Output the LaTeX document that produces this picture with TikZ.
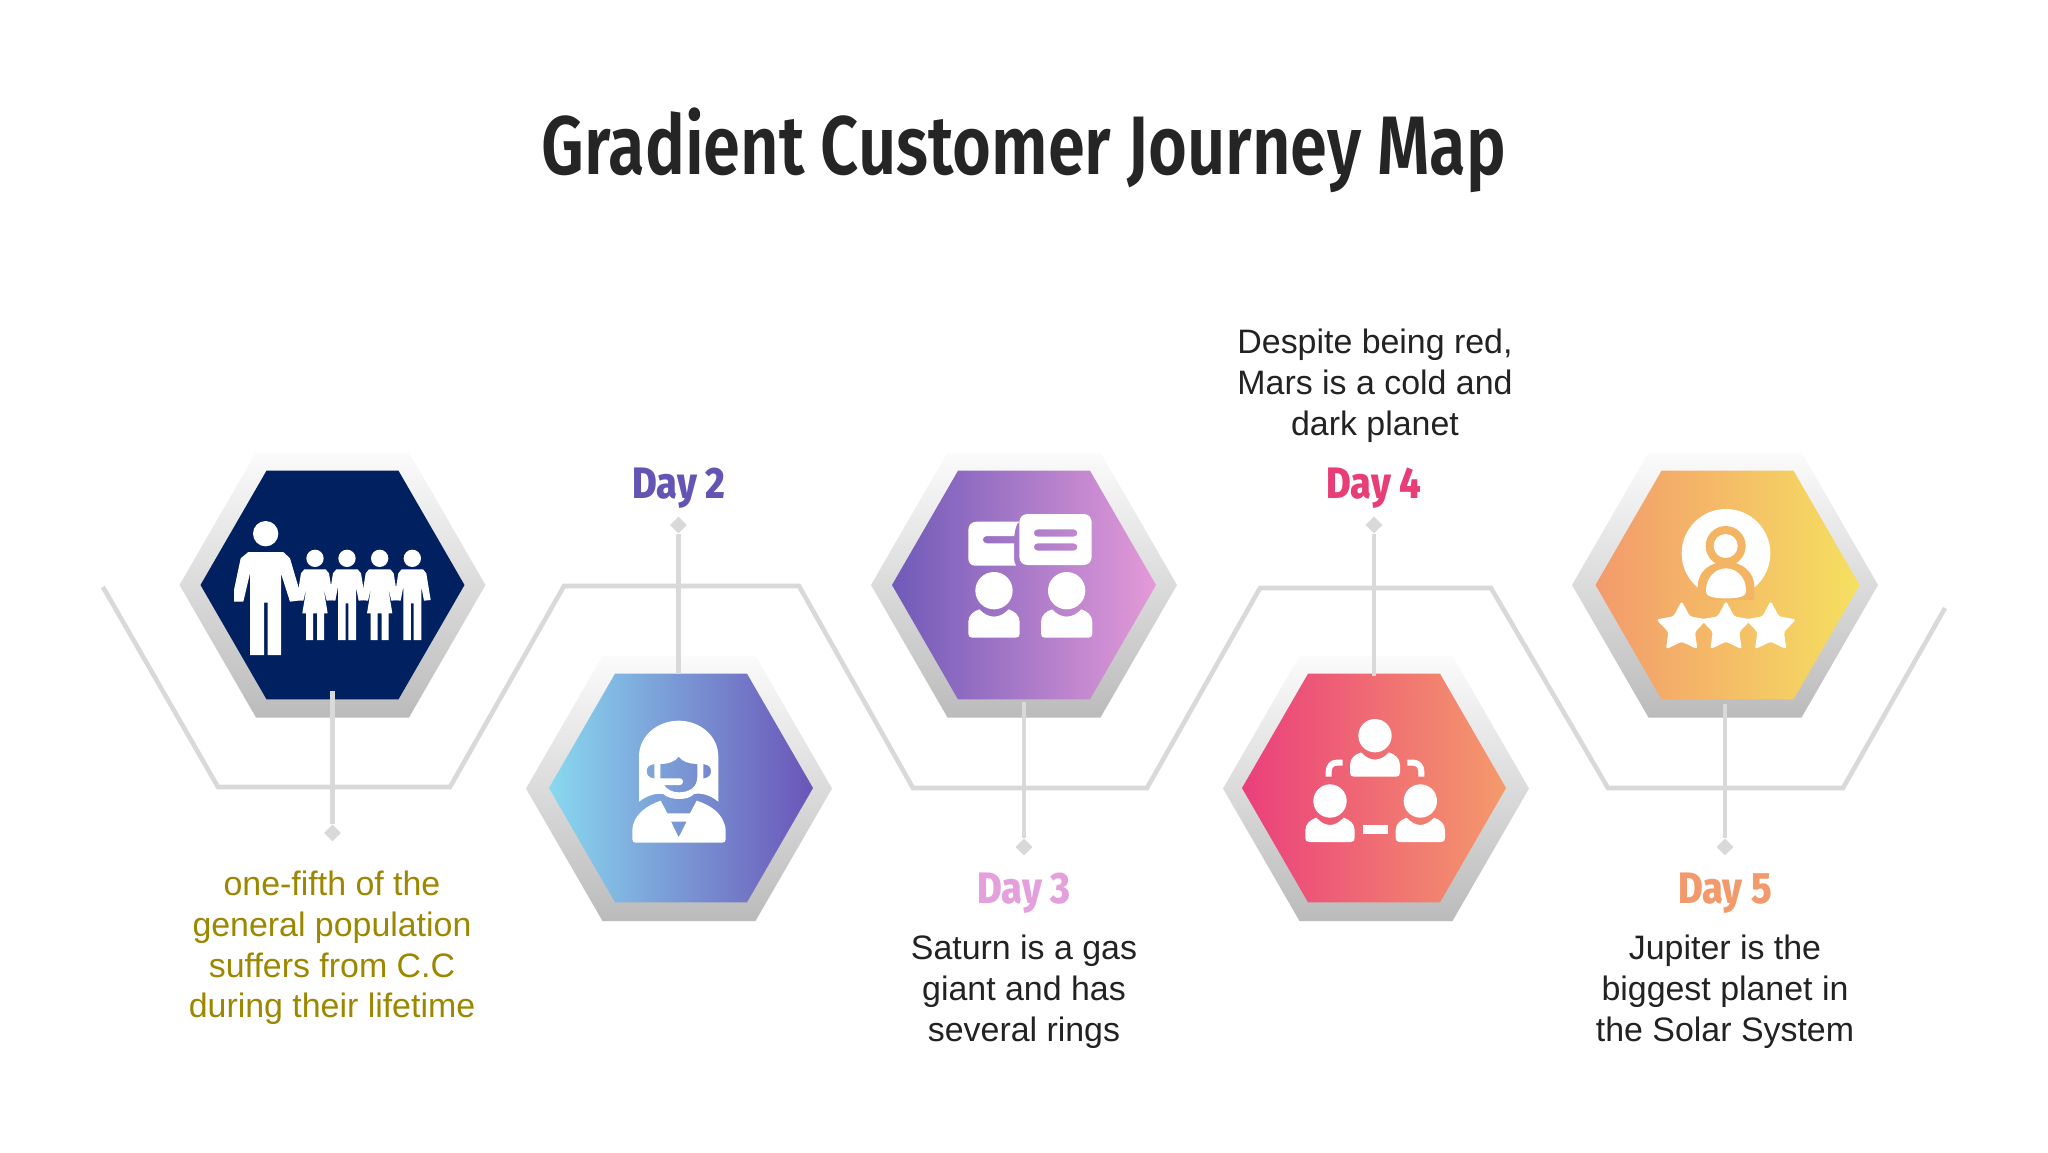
\documentclass[tikz,border=0pt]{standalone}
\usepackage{fontspec}
\usetikzlibrary{shapes.geometric}
\setmainfont{Liberation Sans}
\newfontfamily\titlefont[FakeStretch=0.804]{Fira Sans SemiBold}
\newfontfamily\dayfont[FakeStretch=0.86]{Fira Sans ExtraBold}
\newfontfamily\bodyfont{Liberation Sans}
\definecolor{linegray}{HTML}{D9D9D9}
\definecolor{titlecol}{HTML}{252525}
\definecolor{olive}{HTML}{9C8800}
\definecolor{bodycol}{HTML}{222222}
\definecolor{ringcol}{HTML}{F3B564}
\definecolor{shadebot}{HTML}{BBBBBB}
\definecolor{shadetop}{HTML}{FBFBFB}
\newcommand{\kidboy}[1]{\begin{scope}[shift={(#1,0)}]
 \fill (0,385) circle (26);
 \fill (-32,418)--(32,418)--(42,430)--(55,510)--(35,512)--(27,470)--(27,630)--(4,630)--(4,520)--(-4,520)--(-4,630)--(-27,630)--(-27,470)--(-35,512)--(-55,510)--(-42,430)--cycle;
 \end{scope}}
\newcommand{\kidgirl}[1]{\begin{scope}[shift={(#1,0)}]
 \fill (0,385) circle (26);
 \fill (-32,418)--(32,418)--(42,430)--(55,510)--(35,512)--(25,470)--(38,550)--(27,550)--(27,630)--(6,630)--(6,550)--(-6,550)--(-6,630)--(-27,630)--(-27,550)--(-38,550)--(-25,470)--(-35,512)--(-55,510)--(-42,430)--cycle;
 \end{scope}}
% cx, cy, head radius, half width of the body, bottom offset
\newcommand{\person}[5]{\begin{scope}[shift={(#1,#2)}]
 \fill (0,0) circle (#3);
 \fill (-#4,#5-12) -- (-#4,#3+38) .. controls (-#4,#3+18) and (-#4+15,#3+6) .. (-#4+33,#3) .. controls (-#4+60,#3+29) and (#4-60,#3+29) .. (#4-33,#3) .. controls (#4-15,#3+6) and (#4,#3+18) .. (#4,#3+38) -- (#4,#5-12) .. controls (#4,#5-4) and (#4-4,#5) .. (#4-12,#5) -- (-#4+12,#5) .. controls (-#4+4,#5) and (-#4,#5-4) .. (-#4,#5-12) -- cycle;
 \end{scope}}
\newcommand{\starshape}[1]{\begin{scope}[shift={(#1,563)}]
 \fill[rounded corners=2.5pt] (-90:80)--(-54:42)--(-18:80)--(18:42)--(54:80)--(90:42)--(126:80)--(162:42)--(198:80)--(234:42)--cycle;
 \end{scope}}
\tikzset{
 x=1pt,y=-1pt,
 hexo/.style={regular polygon,regular polygon sides=6,minimum size=306pt,inner sep=0pt,outer sep=0pt,top color=shadetop,bottom color=shadebot},
 hexi/.style={regular polygon,regular polygon sides=6,minimum size=264pt,inner sep=0pt,outer sep=0pt},
 wire/.style={draw=linegray,line width=4.6pt,line join=miter},
 tip/.style={diamond,fill=linegray,inner sep=0pt,minimum size=17pt},
 daylab/.style={font=\dayfont\fontsize{44}{44}\selectfont,anchor=base},
 bodytxt/.style={font=\bodyfont\fontsize{33.9}{40.8}\selectfont,align=center,text=bodycol},
 zoomed/.style={fill=white,draw=none,x=0.33333pt,y=-0.33333pt},
}
\begin{document}
\begin{tikzpicture}
\useasboundingbox (0,0) rectangle (2048,1152);
\fill[white] (0,0) rectangle (2048,1152);
\node[font=\titlefont\fontsize{83}{83}\selectfont,text=titlecol] (title) at (1024,150) {Gradient Customer Journey Map};
% track
\coordinate (t0) at (103,587);\coordinate (t1) at (218,787);\coordinate (t2) at (450,787);
\coordinate (t3) at (564,586);\coordinate (t4) at (799,586);\coordinate (t5) at (913,788);
\coordinate (t6) at (1147,788);\coordinate (t7) at (1260,588);\coordinate (t8) at (1491,588);
\coordinate (t9) at (1608,788);\coordinate (t10) at (1843,788);\coordinate (t11) at (1945,608);
\draw[wire] (t0)--(t1)--(t2)--(t3)--(t4)--(t5)--(t6)--(t7)--(t8)--(t9)--(t10)--(t11);
% hexes
\node[hexo] (o1) at (332.5,585) {};
\node[hexo] (o2) at (679,788.5) {};
\node[hexo] (o3) at (1024,585) {};
\node[hexo] (o4) at (1376,788.5) {};
\node[hexo] (o5) at (1725,585) {};
\node[hexi,fill={rgb,255:red,0;green,32;blue,96}] (h1) at (332.5,585) {};
\node[hexi,left color={rgb,255:red,137;green,216;blue,240},right color={rgb,255:red,106;green,85;blue,184}] (h2) at (681,788) {};
\node[hexi,left color={rgb,255:red,111;green,90;blue,185},right color={rgb,255:red,228;green,154;blue,216}] (h3) at (1024,585) {};
\node[hexi,left color={rgb,255:red,234;green,63;blue,124},right color={rgb,255:red,245;green,154;blue,107}] (h4) at (1374,788) {};
\node[hexi,left color={rgb,255:red,243;green,154;blue,108},right color={rgb,255:red,245;green,224;blue,96}] (h5) at (1727.5,585) {};
% connectors
\node[tip] (d1) at (332.5,833) {};
\node[tip] (d2) at (678.5,525) {};
\node[tip] (d3) at (1024,847) {};
\node[tip] (d4) at (1374,525) {};
\node[tip] (d5) at (1725,847) {};
\coordinate (c1) at (332.5,691);\coordinate (c2) at (678.5,674);\coordinate (c3) at (1024,702);\coordinate (c4) at (1374,676);\coordinate (c5) at (1725,704);
\foreach \i in {1,...,5}{\draw[wire] (c\i)--(d\i);}
% text
\node[daylab,text={rgb,255:red,100;green,85;blue,180}] (day2) at (679,498) {Day 2};
\node[daylab,text={rgb,255:red,227;green,160;blue,220}] (day3) at (1024,903) {Day 3};
\node[daylab,text={rgb,255:red,232;green,62;blue,120}] (day4) at (1374,498) {Day 4};
\node[daylab,text={rgb,255:red,242;green,154;blue,108}] (day5) at (1725,903) {Day 5};
\node[bodytxt,text=olive] (txt1) at (332,948) {one-fifth of the\\general population\\suffers from C.C\\during their lifetime};
\node[bodytxt] (txt3) at (1024,992) {Saturn is a gas\\giant and has\\several rings};
\node[bodytxt] (txt4) at (1375,386) {Despite being red,\\Mars is a cold and\\dark planet};
\node[bodytxt] (txt5) at (1725,992) {Jupiter is the\\biggest planet in\\the Solar System};
% icon 1
\begin{scope}[shift={(80,430)},zoomed]
 \fill (557,311) circle (38);
 \fill (505,366)--(610,366)--(630,385)--(655,470)--(670,510)--(630,515)--(603,430)--(603,675)--(563,675)--(563,518)--(552,518)--(552,675)--(510,675)--(510,430)--(490,515)--(462,515)--(462,480)--(482,385)--cycle;
 \kidgirl{705}\kidboy{801}\kidgirl{899}\kidboy{997}
\end{scope}
% icon 2
\begin{scope}[shift={(520,640)},zoomed]
 \fill[even odd rule] (357,485) -- (357,350) .. controls (357,285) and (415,242) .. (476,242) .. controls (537,242) and (595,285) .. (595,350) -- (595,485) .. controls (570,465) and (545,458) .. (522,462) .. controls (505,482) and (450,482) .. (430,462) .. controls (405,458) and (380,468) .. (357,485) -- cycle
  (421,372) .. controls (445,372) and (465,365) .. (476,350) .. controls (487,365) and (510,372) .. (532,372) -- (532,410) .. controls (532,445) and (505,457) .. (476,457) .. controls (457,457) and (440,448) .. (432,435) -- (480,435) .. controls (492,435) and (492,415) .. (480,415) -- (421,415) -- cycle
  (403,372) -- (403,416) .. controls (385,412) and (380,405) .. (380,394) .. controls (380,382) and (385,375) .. (403,372) -- cycle
  (550,372) -- (550,416) .. controls (568,412) and (573,405) .. (573,394) .. controls (573,382) and (568,375) .. (550,372) -- cycle;
 \fill[even odd rule] (337,598) -- (337,570) .. controls (340,520) and (385,495) .. (422,482) -- (442,520) -- (510,520) -- (530,482) .. controls (570,495) and (612,520) .. (617,570) -- (617,598) .. controls (617,605) and (613,608) .. (607,608) -- (347,608) .. controls (341,608) and (337,605) .. (337,598) -- cycle
  (453,545) -- (500,545) -- (476,592) -- cycle;
\end{scope}
% icon 3
\begin{scope}[shift={(860,440)},zoomed]
 \fill (350,245) -- (478,245) .. controls (470,250) and (465,265) .. (463,288) -- (380,288) .. controls (365,288) and (365,310) .. (380,310) -- (462,310) -- (462,355) .. controls (462,365) and (465,372) .. (468,377) -- (345,377) .. controls (332,377) and (325,367) .. (325,355) -- (325,270) .. controls (325,255) and (335,245) .. (350,245) -- cycle;
 \fill[even odd rule] (503,222) -- (670,222) .. controls (685,222) and (695,232) .. (695,247) -- (695,350) .. controls (695,365) and (685,375) .. (670,375) -- (503,375) .. controls (488,375) and (478,365) .. (478,350) -- (478,247) .. controls (478,232) and (488,222) .. (503,222) -- cycle
  (533,268) -- (641,268) .. controls (656,268) and (656,290) .. (641,290) -- (533,290) .. controls (518,290) and (518,268) .. (533,268) -- cycle
  (533,310) -- (641,310) .. controls (656,310) and (656,332) .. (641,332) -- (533,332) .. controls (518,332) and (518,310) .. (533,310) -- cycle;
 \person{402}{452}{56}{77}{141}
 \person{620}{452}{56}{77}{141}
\end{scope}
% icon 4
\begin{scope}[shift={(1210,650)},zoomed]
 \person{495}{257}{50}{75}{123}
 \person{360}{453}{50}{74}{123}
 \person{631}{453}{50}{74}{123}
 \draw[white,line width=6pt] (356,380) -- (356,365) .. controls (356,350) and (365,338) .. (380,338) -- (398,338);
 \draw[white,line width=6pt] (592,338) -- (610,338) .. controls (625,338) and (634,350) .. (634,365) -- (634,380);
 \fill (458,526) rectangle (533,551);
\end{scope}
% icon 5
\begin{scope}[shift={(1560,440)},zoomed]
 \fill (498,340) circle (133);
 \fill[ringcol] (497,318) circle (60);
 \fill[ringcol] (413,480) -- (413,440) .. controls (413,395) and (450,365) .. (498,365) .. controls (545,365) and (583,395) .. (583,440) -- (583,480) -- cycle;
 \fill (497,318) circle (36);
 \fill (438,450) .. controls (438,415) and (465,385) .. (498,385) .. controls (532,385) and (558,415) .. (558,450) -- (558,455) .. controls (558,468) and (540,475) .. (498,475) .. controls (456,475) and (438,468) .. (438,455) -- cycle;
 \starshape{365}\starshape{498}\starshape{632}
\end{scope}
\end{tikzpicture}
\end{document}
